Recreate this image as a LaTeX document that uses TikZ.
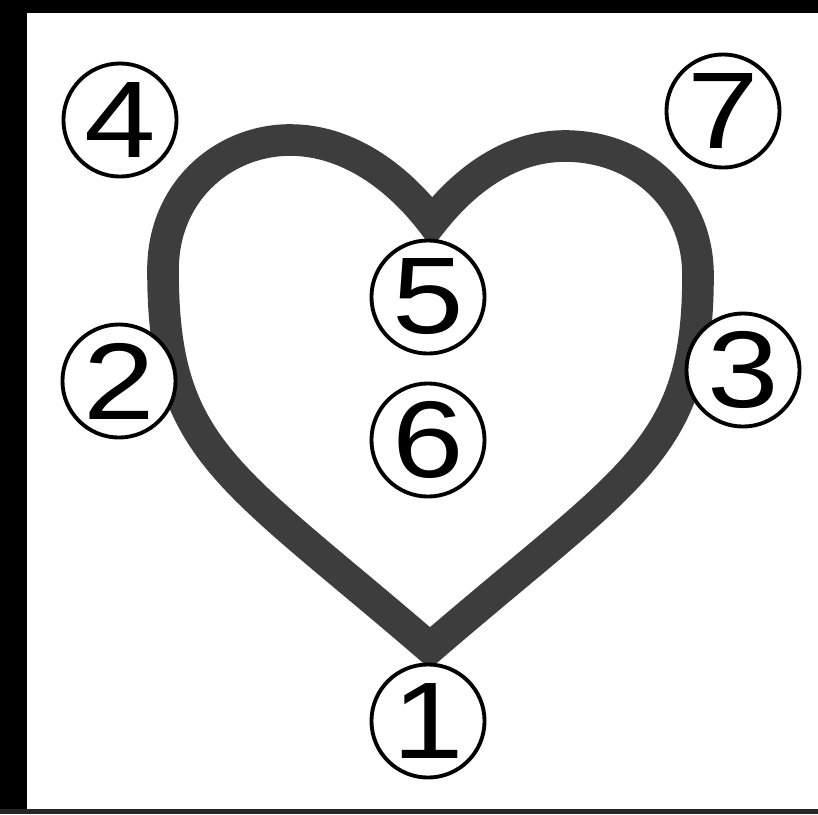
\documentclass[tikz,border=0pt]{standalone}
\usepackage{fontspec}
\usepackage{graphicx}
\newfontfamily\numfont{Liberation Sans}
\newcommand{\wide}[1]{\scalebox{1.18}[1]{#1}}
\begin{document}
\begin{tikzpicture}[x=0.01cm, y=-0.01cm,
  num/.style={circle, draw, fill=white, line width=1.1pt, minimum size=1.13cm, inner sep=0pt, font=\numfont\fontsize{31}{31}\selectfont},
  rim/.style={draw=black!76, line width=9pt, line join=miter}]
  \useasboundingbox (0,0) rectangle (818,814);
  % frame
  \fill[white] (0,0) rectangle (818,814);
  \fill[black] (0,0) rectangle (27,814);
  \fill[black] (0,0) rectangle (818,13);
  \fill[black!85] (0,809) rectangle (818,814);
  % heart
  \draw[rim] (430,648) .. controls (227,473) and (163,450) .. (163,270)
    .. controls (163,190) and (225,140) .. (290,140)
    .. controls (350,140) and (400,180) .. (432,222)
    .. controls (465,180) and (510,146) .. (565,146)
    .. controls (640,146) and (698,200) .. (698,275)
    .. controls (698,450) and (633,473) .. cycle;
  % numbers
  \node[num] (n4) at (120,120) {\wide{4}};
  \node[num] (n7) at (723,111) {\wide{7}};
  \node[num] (n2) at (119,381) {\wide{2}};
  \node[num] (n3) at (743,370) {\wide{3}};
  \node[num] (n5) at (428,297) {\wide{5}};
  \node[num] (n6) at (428,440) {\wide{6}};
  \node[num] (n1) at (428,721) {\wide{1}};
\end{tikzpicture}
\end{document}
